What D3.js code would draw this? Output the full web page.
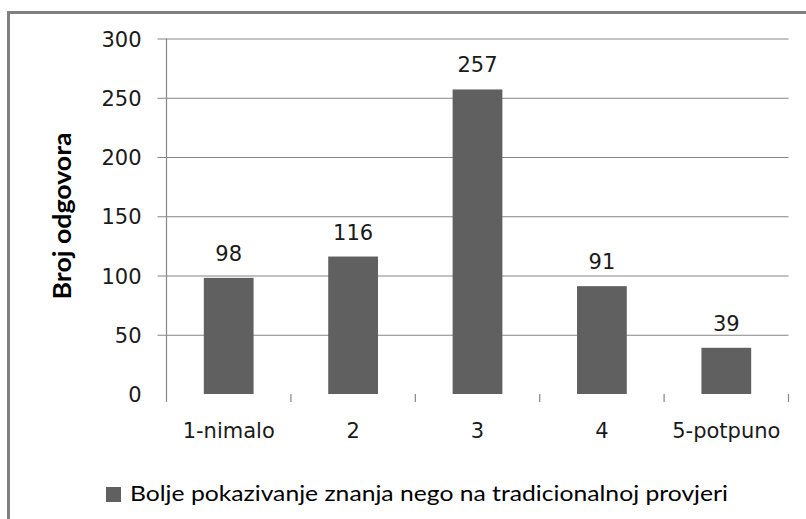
<!DOCTYPE html>
<html>
<head>
<meta charset="utf-8">
<script src="https://cdn.jsdelivr.net/npm/d3@7/dist/d3.min.js"></script>
<style>
  html, body { margin: 0; padding: 0; background: #fff; }
  svg { display: block; }
</style>
</head>
<body>
<svg id="chart" width="806" height="519"></svg>
<script>
// Survey answers: "better demonstration of knowledge than on a traditional test"
const categories = ["1-nimalo", "2", "3", "4", "5-potpuno"];
const values = [98, 116, 257, 91, 39];
const yTicks = [0, 50, 100, 150, 200, 250, 300];
const yTitle = "Broj odgovora";
const seriesName = "Bolje pokazivanje znanja nego na tradicionalnoj provjeri";

const svg = d3.select("#chart");
const barColor = "#606060";
const gridColor = "#868686";
const numFont = "'DejaVu Sans', Verdana, sans-serif";
const textFont = "Lato, 'Open Sans', sans-serif";

// outer chart frame (runs off the right and bottom edges)
svg.append("rect")
  .attr("x", 8.5).attr("y", 12.5)
  .attr("width", 820).attr("height", 530)
  .attr("fill", "none")
  .attr("stroke", "#808080")
  .attr("stroke-width", 3);

const plot = { left: 166.5, right: 788.5, top: 38.5, bottom: 394 };

const x = d3.scaleBand()
  .domain(categories)
  .range([plot.left, plot.right])
  .paddingInner(0.6)
  .paddingOuter(0.3);

const y = d3.scaleLinear()
  .domain([0, 300])
  .range([plot.bottom, plot.top]);

// horizontal gridlines with left tick stubs
const yAxis = d3.axisLeft(y)
  .tickValues(yTicks)
  .tickSize(-(plot.right - plot.left) - 9)
  .tickFormat(d => d);

const gy = svg.append("g")
  .attr("transform", `translate(${plot.right},0)`)
  .call(yAxis);
gy.select(".domain").remove();
gy.selectAll(".tick line")
  .attr("stroke", gridColor)
  .attr("stroke-width", 1.2)
  .attr("x1", 0)
  .attr("x2", -(plot.right - plot.left) - 9)
  .attr("display", d => d === 0 ? "none" : null);
gy.selectAll(".tick text")
  .attr("x", -(plot.right - 141.5))
  .attr("text-anchor", "end")
  .attr("font-family", numFont)
  .attr("font-size", 21)
  .attr("fill", "#1a1a1a")
  .attr("dy", "0.36em");

// vertical value axis line
svg.append("line")
  .attr("x1", plot.left).attr("x2", plot.left)
  .attr("y1", plot.top).attr("y2", plot.bottom + 8)
  .attr("stroke", gridColor)
  .attr("stroke-width", 1.2);

// category boundary ticks
const boundaries = categories.map((c, i) => plot.left + x.step() * (i + 1));
svg.append("g").selectAll("line")
  .data(boundaries)
  .join("line")
  .attr("x1", d => d).attr("x2", d => d)
  .attr("y1", plot.bottom).attr("y2", plot.bottom + 8)
  .attr("stroke", gridColor)
  .attr("stroke-width", 1.2);

// bars
svg.append("g").selectAll("rect")
  .data(values)
  .join("rect")
  .attr("x", (d, i) => x(categories[i]))
  .attr("y", d => y(d))
  .attr("width", x.bandwidth())
  .attr("height", d => y(0) - y(d))
  .attr("fill", barColor);

// value labels
svg.append("g").selectAll("text")
  .data(values)
  .join("text")
  .attr("x", (d, i) => x(categories[i]) + x.bandwidth() / 2)
  .attr("y", d => y(d) - 17)
  .attr("text-anchor", "middle")
  .attr("font-family", numFont)
  .attr("font-size", 21)
  .attr("fill", "#1a1a1a")
  .text(d => d);

// category labels
svg.append("g").selectAll("text")
  .data(categories)
  .join("text")
  .attr("x", d => x(d) + x.bandwidth() / 2)
  .attr("y", 438)
  .attr("text-anchor", "middle")
  .attr("font-family", numFont)
  .attr("font-size", 21)
  .attr("fill", "#1a1a1a")
  .text(d => d);

// value axis title
svg.append("text")
  .attr("transform", "translate(71,216) rotate(-90)")
  .attr("text-anchor", "middle")
  .attr("font-family", textFont)
  .attr("font-weight", "bold")
  .attr("font-size", 24)
  .attr("textLength", 167)
  .attr("lengthAdjust", "spacingAndGlyphs")
  .attr("fill", "#000")
  .text(yTitle);

// legend
svg.append("rect")
  .attr("x", 106).attr("y", 487)
  .attr("width", 15).attr("height", 15)
  .attr("fill", barColor);
svg.append("text")
  .attr("x", 130).attr("y", 501)
  .attr("font-family", textFont)
  .attr("font-size", 22)
  .attr("textLength", 598)
  .attr("lengthAdjust", "spacingAndGlyphs")
  .attr("fill", "#000")
  .text(seriesName);
</script>
</body>
</html>
